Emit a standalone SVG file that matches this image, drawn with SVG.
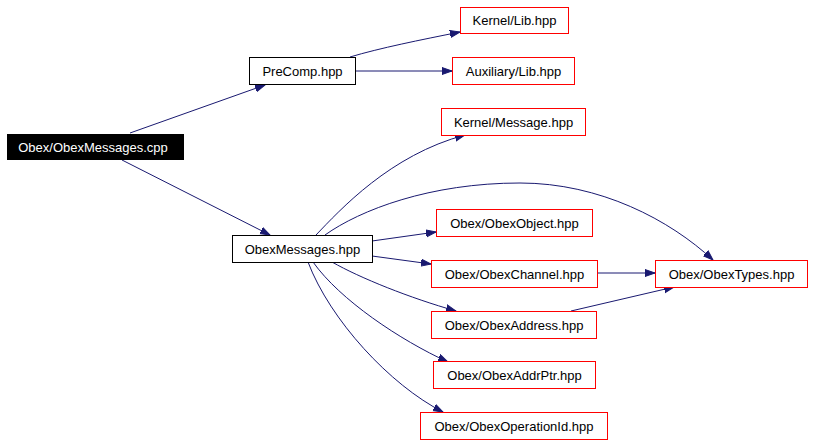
<svg xmlns="http://www.w3.org/2000/svg" width="813" height="445" viewBox="0 0 813 445">
<style>
.n rect{fill:#fff;stroke:#000;stroke-width:1}
.r rect{fill:#fff;stroke:#f00;stroke-width:1}
text{font-family:"Liberation Sans",Arial,sans-serif;font-size:13px;fill:#000;text-anchor:middle}
.e path{fill:none;stroke:#191970;stroke-width:1}
</style>
<defs>
<marker id="a" markerUnits="userSpaceOnUse" markerWidth="12" markerHeight="9" refX="10" refY="4" orient="auto"><path d="M0,0.5 L10,4 L0,7.5 z" fill="#191970" stroke="#191970"/></marker>
</defs>
<rect width="813" height="445" fill="#fff"/>
<g class="e" id="edges">
<path marker-end="url(#a)" d="M130,133 L265,85"/>
<path marker-end="url(#a)" d="M122,160 L270,235"/>
<path marker-end="url(#a)" d="M350,57 C380,48 420,40 460,32"/>
<path marker-end="url(#a)" d="M356,71 L452,71"/>
<path marker-end="url(#a)" d="M316,235 C340,210 390,155 465,135"/>
<path marker-end="url(#a)" d="M325,235 C360,210 430,183 520,183 C600,183 670,220 713,260"/>
<path marker-end="url(#a)" d="M372,241 L436,232"/>
<path marker-end="url(#a)" d="M372,256 L431,264"/>
<path marker-end="url(#a)" d="M332,262 C360,278 410,298 456,311"/>
<path marker-end="url(#a)" d="M313,262 C340,300 400,340 448,362"/>
<path marker-end="url(#a)" d="M308,262 C330,320 390,385 443,412"/>
<path marker-end="url(#a)" d="M597,273 L655,273"/>
<path marker-end="url(#a)" d="M571,311 L674,287"/>
</g>
<g id="n0"><rect x="7.5" y="134.5" width="176" height="25" fill="#000" stroke="#000"/><text x="93" y="151.5" style="fill:#fff">Obex/ObexMessages.cpp</text></g>
<g id="n1" class="n"><rect x="249.5" y="57.5" width="106" height="27"/><text x="302.5" y="75.5">PreComp.hpp</text></g>
<g id="n2" class="r"><rect x="460.5" y="7.5" width="108" height="26"/><text x="514.5" y="25">Kernel/Lib.hpp</text></g>
<g id="n3" class="r"><rect x="452.5" y="57.5" width="122" height="27"/><text x="513.5" y="75.5">Auxiliary/Lib.hpp</text></g>
<g id="n4" class="n"><rect x="232.5" y="235.5" width="140" height="27"/><text x="302.5" y="253.5">ObexMessages.hpp</text></g>
<g id="n5" class="r"><rect x="441.5" y="108.5" width="144" height="27"/><text x="513.5" y="126.5">Kernel/Message.hpp</text></g>
<g id="n6" class="r"><rect x="436.5" y="209.5" width="156" height="27"/><text x="514.5" y="227.5">Obex/ObexObject.hpp</text></g>
<g id="n7" class="r"><rect x="431.5" y="260.5" width="166" height="27"/><text x="514.5" y="278.5">Obex/ObexChannel.hpp</text></g>
<g id="n8" class="r"><rect x="655.5" y="260.5" width="152" height="27"/><text x="731.5" y="278.5">Obex/ObexTypes.hpp</text></g>
<g id="n9" class="r"><rect x="431.5" y="311.5" width="165" height="27"/><text x="514" y="329.5">Obex/ObexAddress.hpp</text></g>
<g id="n10" class="r"><rect x="433.5" y="361.5" width="162" height="27"/><text x="514.5" y="379.5">Obex/ObexAddrPtr.hpp</text></g>
<g id="n11" class="r"><rect x="420.5" y="412.5" width="187" height="27"/><text x="514" y="430.5">Obex/ObexOperationId.hpp</text></g>
</svg>
